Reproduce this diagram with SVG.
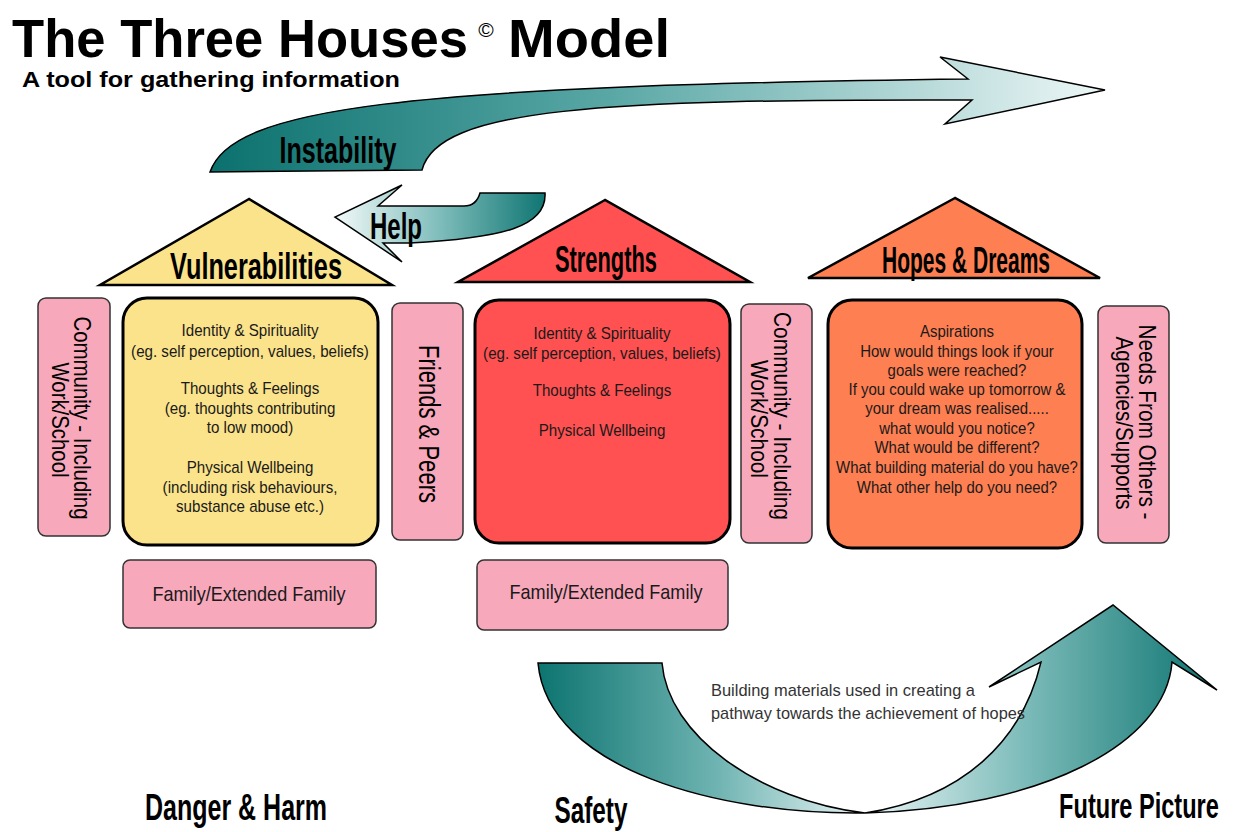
<svg xmlns="http://www.w3.org/2000/svg" width="1234" height="832" viewBox="0 0 1234 832">
<defs>
<linearGradient id="gInst" x1="210" y1="0" x2="1105" y2="0" gradientUnits="userSpaceOnUse">
<stop offset="0" stop-color="#0b716e"/><stop offset="0.45" stop-color="#5aa8a6"/><stop offset="1" stop-color="#eef7f7"/>
</linearGradient>
<linearGradient id="gHelp" x1="335" y1="0" x2="547" y2="0" gradientUnits="userSpaceOnUse">
<stop offset="0" stop-color="#f2f9f9"/><stop offset="0.5" stop-color="#7dbcba"/><stop offset="1" stop-color="#0d7470"/>
</linearGradient>
<linearGradient id="gLeft" x1="538" y1="0" x2="865" y2="0" gradientUnits="userSpaceOnUse">
<stop offset="0" stop-color="#0d7470"/><stop offset="0.55" stop-color="#6fb4b2"/><stop offset="1" stop-color="#e8f4f4"/>
</linearGradient>
<linearGradient id="gRight" x1="865" y1="0" x2="1217" y2="0" gradientUnits="userSpaceOnUse">
<stop offset="0" stop-color="#e8f4f4"/><stop offset="0.45" stop-color="#7dbcba"/><stop offset="1" stop-color="#0d7470"/>
</linearGradient>
</defs>
<style>
.arrow{stroke:#000;stroke-width:1.5;stroke-linejoin:miter}
.tri{stroke:#000;stroke-width:2.5;stroke-linejoin:miter}
.box{stroke:#000;stroke-width:3}
.pink{fill:#f7a8bb;stroke:#333;stroke-width:1.5}
.head{font-family:"Liberation Sans",Arial,sans-serif;font-weight:bold;font-size:36px;fill:#000}
.body{font-family:"Liberation Sans",Arial,sans-serif;font-size:17px;fill:#1a1a1a;text-anchor:middle}
.vert{font-family:"Liberation Sans",Arial,sans-serif;font-size:24px;fill:#000;text-anchor:middle}
.fam{font-family:"Liberation Sans",Arial,sans-serif;font-size:21px;fill:#1a1a1a;text-anchor:middle}
.note{font-family:"Liberation Sans",Arial,sans-serif;font-size:17px;fill:#333}
</style>
<rect width="1234" height="832" fill="#fff"/>

<g id="title">
<text x="12" y="57" font-family="Liberation Sans,Arial,sans-serif" font-weight="bold" font-size="53" textLength="456" lengthAdjust="spacingAndGlyphs">The Three Houses</text>
<text x="486" y="37" font-family="Liberation Sans,Arial,sans-serif" font-size="21" text-anchor="middle">©</text>
<text x="508" y="57" font-family="Liberation Sans,Arial,sans-serif" font-weight="bold" font-size="53" textLength="162" lengthAdjust="spacingAndGlyphs">Model</text>
<text x="22" y="87" font-family="Liberation Sans,Arial,sans-serif" font-weight="bold" font-size="22" textLength="378" lengthAdjust="spacingAndGlyphs">A tool for gathering information</text>
</g>

<g id="connectors">
<g id="instability-arrow">
<path class="arrow" fill="url(#gInst)" d="M210,172 C232,108 400,86 968,79 L940,57 L1105,90 L945,124 L972,100 C600,99 438,108 422,170 Z"/>
<text class="head" x="338" y="163" text-anchor="middle" textLength="117" lengthAdjust="spacingAndGlyphs">Instability</text>
</g>
<g id="help-arrow">
<path class="arrow" fill="url(#gHelp)" d="M545,193 C547,226 505,238 410,243 L383,243 L402,262 L335,217 L402,185 L378,206 L464,206 C474,206 478,200 480,193 Z"/>
<text class="head" x="396" y="239" text-anchor="middle" textLength="52" lengthAdjust="spacingAndGlyphs">Help</text>
</g>
<g id="pathway-arrow">
<path class="arrow" fill="url(#gLeft)" d="M538,663 L662,663 C668,735 758,800 865,813 C720,815 548,770 538,663 Z"/>
<path class="arrow" fill="url(#gRight)" d="M865,813 C962,798 1022,742 1041,662 L989,687 L1113,605 L1217,690 L1172,662 C1166,745 1040,808 865,813 Z"/>
<text class="note" x="711" y="696" textLength="264" lengthAdjust="spacingAndGlyphs">Building materials used in creating a</text>
<text class="note" x="711" y="719" textLength="314" lengthAdjust="spacingAndGlyphs">pathway towards the achievement of hopes</text>
</g>
</g>

<g id="vulnerabilities">
<polygon class="tri" fill="#fbe38b" points="249,199 100,285 392,285"/>
<text class="head" x="256" y="279" text-anchor="middle" textLength="172" lengthAdjust="spacingAndGlyphs">Vulnerabilities</text>
<rect class="box" fill="#fbe38b" x="123" y="298" width="255" height="247" rx="24"/>
<g transform="translate(250,0) scale(0.89,1)">
<text class="body" x="0" y="336">Identity &amp; Spirituality</text>
<text class="body" x="0" y="357">(eg. self perception, values, beliefs)</text>
<text class="body" x="0" y="394">Thoughts &amp; Feelings</text>
<text class="body" x="0" y="414">(eg. thoughts contributing</text>
<text class="body" x="0" y="433">to low mood)</text>
<text class="body" x="0" y="473">Physical Wellbeing</text>
<text class="body" x="0" y="493">(including risk behaviours,</text>
<text class="body" x="0" y="512">substance abuse etc.)</text>
</g>
</g>

<g id="strengths">
<polygon class="tri" fill="#ff5151" points="605,200 458,282 750,282"/>
<text class="head" x="606" y="272" text-anchor="middle" textLength="102" lengthAdjust="spacingAndGlyphs">Strengths</text>
<rect class="box" fill="#ff5151" x="475" y="300" width="255" height="243" rx="24"/>
<g transform="translate(602,0) scale(0.89,1)">
<text class="body" x="0" y="339">Identity &amp; Spirituality</text>
<text class="body" x="0" y="359">(eg. self perception, values, beliefs)</text>
<text class="body" x="0" y="396">Thoughts &amp; Feelings</text>
<text class="body" x="0" y="436">Physical Wellbeing</text>
</g>
</g>

<g id="hopes-dreams">
<polygon class="tri" fill="#fd7f52" points="955,198 808,278 1100,278"/>
<text class="head" x="966" y="273" text-anchor="middle" textLength="168" lengthAdjust="spacingAndGlyphs">Hopes &amp; Dreams</text>
<rect class="box" fill="#fd7f52" x="828" y="300" width="254" height="248" rx="24"/>
<g transform="translate(957,0) scale(0.88,1)">
<text class="body" x="0" y="337">Aspirations</text>
<text class="body" x="0" y="357">How would things look if your</text>
<text class="body" x="0" y="376">goals were reached?</text>
<text class="body" x="0" y="395">If you could wake up tomorrow &amp;</text>
<text class="body" x="0" y="414">your dream was realised.....</text>
<text class="body" x="0" y="434">what would you notice?</text>
<text class="body" x="0" y="453">What would be different?</text>
<text class="body" x="0" y="473">What building material do you have?</text>
<text class="body" x="0" y="493">What other help do you need?</text>
</g>
</g>

<g id="community-left">
<rect class="pink" x="38" y="298" width="72" height="238" rx="8"/>
<text class="vert" transform="translate(74,418) rotate(90)" textLength="203" lengthAdjust="spacingAndGlyphs">Community - Including</text>
<text class="vert" transform="translate(52,420) rotate(90)" textLength="115" lengthAdjust="spacingAndGlyphs">Work/School</text>
</g>

<g id="friends-peers">
<rect class="pink" x="392" y="303" width="71" height="237" rx="8"/>
<text class="vert" style="font-size:30px" transform="translate(419,424) rotate(90)" textLength="158" lengthAdjust="spacingAndGlyphs">Friends &amp; Peers</text>
</g>

<g id="community-right">
<rect class="pink" x="741" y="304" width="71" height="239" rx="8"/>
<text class="vert" transform="translate(774,416) rotate(90)" textLength="208" lengthAdjust="spacingAndGlyphs">Community - Including</text>
<text class="vert" transform="translate(751,419) rotate(90)" textLength="118" lengthAdjust="spacingAndGlyphs">Work/School</text>
</g>

<g id="needs">
<rect class="pink" x="1098" y="306" width="71" height="237" rx="8"/>
<text class="vert" transform="translate(1139,422) rotate(90)" textLength="195" lengthAdjust="spacingAndGlyphs">Needs From Others -</text>
<text class="vert" transform="translate(1116,423) rotate(90)" textLength="173" lengthAdjust="spacingAndGlyphs">Agencies/Supports</text>
</g>

<g id="family-left">
<rect class="pink" x="123" y="560" width="253" height="68" rx="7"/>
<text class="fam" x="249" y="601" textLength="193" lengthAdjust="spacingAndGlyphs">Family/Extended Family</text>
</g>

<g id="family-right">
<rect class="pink" x="477" y="560" width="251" height="70" rx="7"/>
<text class="fam" x="606" y="599" textLength="193" lengthAdjust="spacingAndGlyphs">Family/Extended Family</text>
</g>

<g id="labels">
<text class="head" x="236" y="820" text-anchor="middle" textLength="182" lengthAdjust="spacingAndGlyphs">Danger &amp; Harm</text>
<text class="head" x="591" y="823" text-anchor="middle" textLength="73" lengthAdjust="spacingAndGlyphs">Safety</text>
<g transform="translate(1139,818) scale(0.655,1)">
<text class="head" x="0" y="0" text-anchor="middle">Future Picture</text>
</g>
</g>
</svg>
